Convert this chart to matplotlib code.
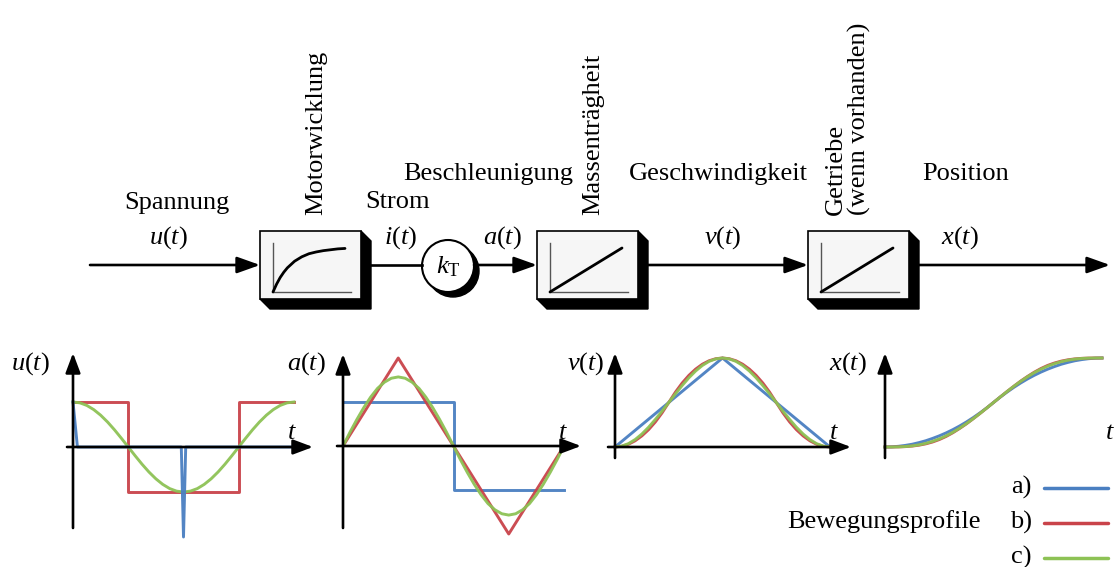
import matplotlib.pyplot as plt
from matplotlib.patches import Polygon, Rectangle, Circle

plt.rcParams['font.family'] = ['Liberation Serif', 'DejaVu Serif']
plt.rcParams['mathtext.fontset'] = 'custom'
plt.rcParams['mathtext.rm'] = 'Liberation Serif'
plt.rcParams['mathtext.it'] = 'Liberation Serif:italic'

# --- Bewegungsprofile (normiert) ---
profile_labels = ['a)', 'b)', 'c)']
colors = ['#4a7fc1', '#c9434a', '#8dc255']

t32 = [0, 0.03125, 0.0625, 0.09375, 0.125, 0.15625, 0.1875, 0.21875, 0.25,
       0.28125, 0.3125, 0.34375, 0.375, 0.40625, 0.4375, 0.46875, 0.5,
       0.53125, 0.5625, 0.59375, 0.625, 0.65625, 0.6875, 0.71875, 0.75,
       0.78125, 0.8125, 0.84375, 0.875, 0.90625, 0.9375, 0.96875, 1]

# Spannung u(t)
u_a_t = [0, 0.02, 0.49, 0.5, 0.51, 1]
u_a = [1, 0, 0, -2, 0, 0]
u_b_t = [0, 0.25, 0.25, 0.75, 0.75, 1]
u_b = [1, 1, -1, -1, 1, 1]
u_c = [1, 0.981, 0.924, 0.831, 0.707, 0.556, 0.383, 0.195, 0,
       -0.195, -0.383, -0.556, -0.707, -0.831, -0.924, -0.981, -1,
       -0.981, -0.924, -0.831, -0.707, -0.556, -0.383, -0.195, 0,
       0.195, 0.383, 0.556, 0.707, 0.831, 0.924, 0.981, 1]

# Beschleunigung a(t)
a_a_t = [0, 0.5, 0.5, 1]
a_a = [1, 1, -1, -1]
a_b_t = [0, 0.25, 0.5, 0.75, 1]
a_b = [0, 2, 0, -2, 0]
a_c = [0, 0.31, 0.60, 0.87, 1.11, 1.31, 1.45, 1.54, 1.57,
       1.54, 1.45, 1.31, 1.11, 0.87, 0.60, 0.31, 0,
       -0.31, -0.60, -0.87, -1.11, -1.31, -1.45, -1.54, -1.57,
       -1.54, -1.45, -1.31, -1.11, -0.87, -0.60, -0.31, 0]

# Geschwindigkeit v(t)
v_a_t = [0, 0.5, 1]
v_a = [0, 1, 0]
v_b = [0, 0.008, 0.031, 0.070, 0.125, 0.195, 0.281, 0.383, 0.5,
       0.617, 0.719, 0.805, 0.875, 0.930, 0.969, 0.992, 1,
       0.992, 0.969, 0.930, 0.875, 0.805, 0.719, 0.617, 0.5,
       0.383, 0.281, 0.195, 0.125, 0.070, 0.031, 0.008, 0]
v_c = [0, 0.010, 0.038, 0.084, 0.146, 0.222, 0.309, 0.402, 0.5,
       0.598, 0.691, 0.778, 0.854, 0.916, 0.962, 0.990, 1,
       0.990, 0.962, 0.916, 0.854, 0.778, 0.691, 0.598, 0.5,
       0.402, 0.309, 0.222, 0.146, 0.084, 0.038, 0.010, 0]

# Position x(t)
x_a = [0, 0.002, 0.008, 0.018, 0.031, 0.049, 0.070, 0.096, 0.125,
       0.158, 0.195, 0.236, 0.281, 0.330, 0.383, 0.439, 0.5,
       0.561, 0.617, 0.670, 0.719, 0.764, 0.805, 0.842, 0.875,
       0.904, 0.930, 0.951, 0.969, 0.982, 0.992, 0.998, 1]
x_b = [0, 0.0002, 0.0013, 0.0044, 0.0104, 0.0203, 0.0352, 0.0558, 0.0833,
       0.118, 0.160, 0.208, 0.260, 0.317, 0.376, 0.438, 0.5,
       0.562, 0.624, 0.683, 0.740, 0.792, 0.840, 0.882, 0.917,
       0.944, 0.965, 0.980, 0.990, 0.996, 0.999, 1.0, 1]
x_c = [0, 0.0002, 0.0016, 0.0053, 0.0125, 0.024, 0.0405, 0.063, 0.091,
       0.125, 0.165, 0.2115, 0.2625, 0.318, 0.377, 0.438, 0.5,
       0.562, 0.623, 0.682, 0.7375, 0.7885, 0.835, 0.875, 0.909,
       0.937, 0.9595, 0.976, 0.9875, 0.9947, 0.9984, 0.9998, 1]

# Symbole in den Bloecken
pt1_x = [0, 0.05, 0.1, 0.15, 0.2, 0.3, 0.4, 0.5, 0.6, 0.7, 0.8, 0.9, 1]
pt1_y = [0, 0.18, 0.33, 0.45, 0.55, 0.70, 0.80, 0.87, 0.91, 0.94, 0.96, 0.98, 0.99]

W, H = 1116, 567
fig = plt.figure(figsize=(W / 100, H / 100), dpi=100)
bg = fig.add_axes([0, 0, 1, 1])
bg.set_xlim(0, W)
bg.set_ylim(H, 0)
bg.axis('off')

FS = 19
LW = 1.9


def arrow(ax, x1, y1, x2, y2, ms=20, hl=0.7, hw=0.25):
    ax.annotate('', xy=(x2, y2), xytext=(x1, y1),
                arrowprops=dict(arrowstyle=f'-|>,head_length={hl},head_width={hw}',
                                mutation_scale=ms, lw=LW, color='k',
                                shrinkA=0, shrinkB=0))


def block(x0, y0, w=101, h=68, d=10, kind='lin'):
    x1, y1 = x0 + w, y0 + h
    bg.add_patch(Polygon([(x1, y0), (x1 + d, y0 + d), (x1 + d, y1 + d),
                          (x0 + d, y1 + d), (x0, y1), (x1, y1)],
                         closed=True, fc='k', ec='k', lw=1))
    bg.add_patch(Rectangle((x0, y0), w, h, fc='#f6f6f6', ec='k', lw=1.2))
    ox, oy = x0 + 13, y0 + 61
    bg.plot([ox, ox, x0 + 91], [y0 + 12, oy, oy], color='#555555', lw=1.0)
    if kind == 'pt1':
        bg.plot([ox + v * 72 for v in pt1_x], [oy - v * 44 for v in pt1_y],
                color='k', lw=2.0, solid_capstyle='round')
    else:
        bg.plot([ox, ox + 72], [oy, oy - 44], color='k', lw=2.0,
                solid_capstyle='round')


# --- Blockschaltbild ---
ly = 265
arrow(bg, 90, ly, 260, ly)
block(260, 231, kind='pt1')
bg.plot([370, 422], [ly, ly], color='k', lw=LW)
bg.add_patch(Circle((453, 271), 26, fc='k', ec='k'))
bg.add_patch(Circle((448, 266), 26, fc='white', ec='k', lw=1.5))
bg.text(448, 267, r'$k_\mathrm{T}$', fontsize=FS, ha='center', va='center')
arrow(bg, 474, ly, 537, ly)
block(537, 231)
arrow(bg, 648, ly, 808, ly)
block(808, 231)
arrow(bg, 919, ly, 1110, ly)

bg.text(177, 203, 'Spannung', fontsize=FS, ha='center', va='center')
bg.text(168, 238, r'$u(t)$', fontsize=FS, ha='center', va='center')
bg.text(316, 215, 'Motorwicklung', fontsize=FS, rotation=90,
        ha='center', va='bottom')
bg.text(398, 202, 'Strom', fontsize=FS, ha='center', va='center')
bg.text(401, 238, r'$i(t)$', fontsize=FS, ha='center', va='center')
bg.text(488, 174, 'Beschleunigung', fontsize=FS, ha='center', va='center')
bg.text(502, 238, r'$a(t)$', fontsize=FS, ha='center', va='center')
bg.text(593, 215, 'Massenträgheit', fontsize=FS, rotation=90,
        ha='center', va='bottom')
bg.text(718, 174, 'Geschwindigkeit', fontsize=FS, ha='center', va='center')
bg.text(723, 238, r'$v(t)$', fontsize=FS, ha='center', va='center')
bg.text(848, 215, 'Getriebe\n(wenn vorhanden)', fontsize=FS, rotation=90,
        ha='center', va='bottom', multialignment='left', linespacing=1.05)
bg.text(966, 174, 'Position', fontsize=FS, ha='center', va='center')
bg.text(960, 238, r'$x(t)$', fontsize=FS, ha='center', va='center')


# --- Verlaeufe ---
def small_axes(x0, y0, sx, sy, left, right, top, bottom):
    # x0, y0: Ursprung in Pixeln; sx, sy: Pixel pro Einheit
    ax = fig.add_axes([left / W, 1 - bottom / H, (right - left) / W, (bottom - top) / H])
    ax.set_xlim((left - x0) / sx, (right - x0) / sx)
    ax.set_ylim((y0 - bottom) / sy, (y0 - top) / sy)
    ax.axis('off')
    ax.patch.set_alpha(0)
    return ax


def draw_axis(ax, x0, y0, sx, sy, xs, xe, yb, yt, ylabel, tlabel_pos, ylabel_pos):
    px = lambda x: (x - x0) / sx
    py = lambda y: (y0 - y) / sy
    arrow(ax, px(xs), 0, px(xe), 0, ms=15, hl=0.8, hw=0.3)
    arrow(ax, 0, py(yb), 0, py(yt), ms=15, hl=0.8, hw=0.3)
    bg.text(tlabel_pos[0], tlabel_pos[1], r'$t$', fontsize=FS, ha='center', va='center')
    bg.text(ylabel_pos[0], ylabel_pos[1], ylabel, fontsize=FS, ha='center', va='center')


panels = [
    dict(x0=73, y0=447, sx=221, sy=45, box=(40, 330, 340, 545),
         ax=(67, 313, 528, 353), yl=r'$u(t)$', tp=(292, 433), yp=(30, 364),
         series=[(u_a_t, u_a), (u_b_t, u_b), (t32, u_c)], order=[1, 2, 0]),
    dict(x0=343, y0=446, sx=221, sy=44, box=(320, 600, 340, 545),
         ax=(337, 581, 528, 354), yl=r'$a(t)$', tp=(563, 433), yp=(306, 364),
         series=[(a_a_t, a_a), (a_b_t, a_b), (t32, a_c)], order=[0, 1, 2]),
    dict(x0=615, y0=447, sx=215, sy=89, box=(595, 870, 340, 470),
         ax=(608, 851, 458, 353), yl=r'$v(t)$', tp=(834, 433), yp=(586, 364),
         series=[(v_a_t, v_a), (t32, v_b), (t32, v_c)], order=[0, 1, 2]),
    dict(x0=885, y0=447, sx=217, sy=89, box=(865, 1116, 340, 470),
         ax=(877, 1117, 458, 353), yl=r'$x(t)$', tp=(1110, 433), yp=(848, 364),
         series=[(t32, x_a), (t32, x_b), (t32, x_c)], order=[0, 1, 2]),
]

for p in panels:
    l, r, tp_, bt = p['box']
    ax = small_axes(p['x0'], p['y0'], p['sx'], p['sy'], l, r, tp_, bt)
    xs, xe, yb, yt = p['ax']
    draw_axis(ax, p['x0'], p['y0'], p['sx'], p['sy'], xs, xe, yb, yt,
              p['yl'], p['tp'], p['yp'])
    for i in p['order']:
        tt, vv = p['series'][i]
        ax.plot(tt, vv, color=colors[i], lw=2.1, clip_on=False, alpha=0.95)

# --- Legende ---
bg.text(981, 522, 'Bewegungsprofile', fontsize=FS, ha='right', va='center')
for lab, col, yy in zip(profile_labels, colors, [487, 522, 557]):
    bg.text(1032, yy, lab, fontsize=FS, ha='right', va='center')
    bg.plot([1044, 1108], [yy + 1, yy + 1], color=col, lw=2.5, solid_capstyle='round')

fig.savefig('out.png', dpi=100)
